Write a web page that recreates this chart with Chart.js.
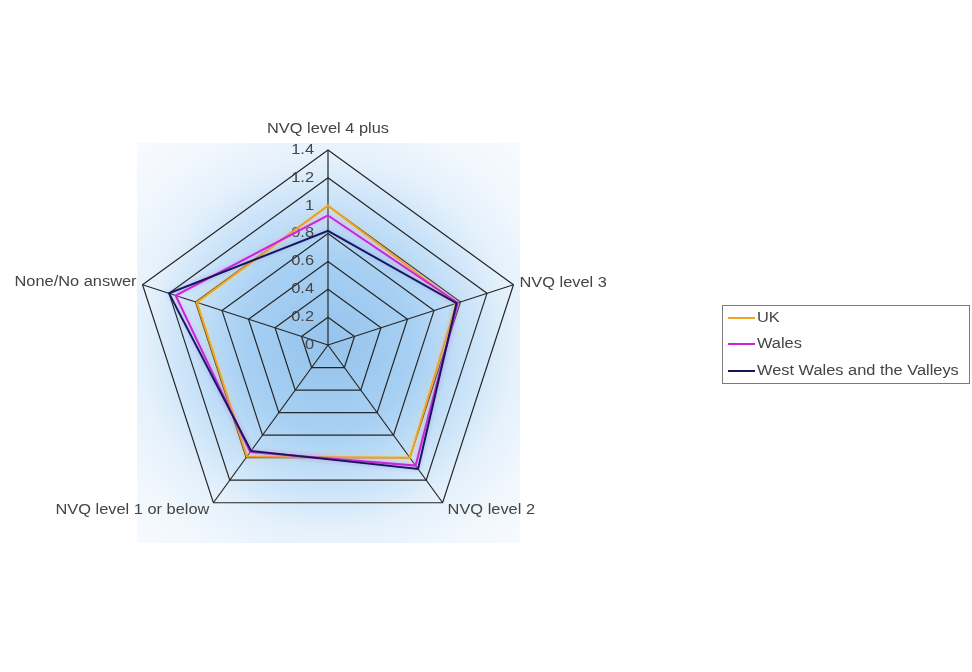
<!DOCTYPE html>
<html>
<head>
<meta charset="utf-8">
<title>Qualification levels – index</title>
<script src="https://cdn.jsdelivr.net/npm/chart.js@4/dist/chart.umd.min.js"></script>
<style>
  html, body { margin: 0; padding: 0; background: #ffffff; }
  #wrap { width: 972px; height: 672px; }
</style>
</head>
<body>
<div id="wrap"><canvas id="c" width="972" height="672"></canvas></div>
<script>
// Axis categories
const categories = ['NVQ level 4 plus', 'NVQ level 3', 'NVQ level 2', 'NVQ level 1 or below', 'None/No answer'];

// Series names and values (index relative to UK)
const seriesNames = ['UK', 'Wales', 'West Wales and the Valleys'];
const ukValues    = [1.00, 0.97, 1.00, 0.99, 0.99];
const walesValues = [0.93, 0.98, 1.07, 0.95, 1.15];
const wwvValues   = [0.82, 0.97, 1.10, 0.94, 1.20];

// Radial axis range
const axisMin = 0;
const axisMax = 1.4;
const axisStep = 0.2;

const seriesColors = ['#efa322', '#cc22dd', '#16165c'];
const glowColors = ['rgba(250,215,90,0.7)', 'rgba(245,150,240,0.7)', 'rgba(120,120,210,0.45)'];

const FONT = '14px "Liberation Sans", Arial, sans-serif';
const TEXT_COLOR = '#444444';
const STRETCH = 1.17;

function wideText(ctx, text, x, y, align) {
  ctx.save();
  ctx.translate(x, y);
  ctx.scale(STRETCH, 1);
  ctx.textAlign = align;
  ctx.textBaseline = 'middle';
  ctx.fillText(text, 0, 0);
  ctx.restore();
}

// Shaded backdrop behind the web
const backdropPlugin = {
  id: 'backdrop',
  beforeDraw(chart) {
    const ctx = chart.ctx;
    const s = chart.scales.r;
    ctx.save();
    ctx.fillStyle = '#ffffff';
    ctx.fillRect(0, 0, chart.width, chart.height);
    const g = ctx.createRadialGradient(s.xCenter, s.yCenter, 0, s.xCenter, s.yCenter, 285);
    g.addColorStop(0.00, '#95c3ec');
    g.addColorStop(0.30, '#a7d0f3');
    g.addColorStop(0.48, '#c6e1f8');
    g.addColorStop(0.64, '#e3f0fb');
    g.addColorStop(0.80, '#f1f7fd');
    g.addColorStop(1.00, '#f9fbfe');
    ctx.fillStyle = g;
    ctx.fillRect(137, 143, 383, 400);
    ctx.restore();
  }
};

// Tick values and category names around the web
const labelsPlugin = {
  id: 'webLabels',
  beforeDatasetsDraw(chart) {
    const ctx = chart.ctx;
    const s = chart.scales.r;
    ctx.save();
    ctx.font = FONT;
    ctx.fillStyle = TEXT_COLOR;
    s.ticks.forEach(t => {
      const d = s.getDistanceFromCenterForValue(t.value);
      const txt = String(parseFloat(t.value.toFixed(1)));
      wideText(ctx, txt, s.xCenter - 14, s.yCenter - d, 'right');
    });
    const place = [
      { dx: 0, dy: -21, align: 'center' },
      { dx: 6, dy: -2, align: 'left' },
      { dx: 5, dy: 7, align: 'left' },
      { dx: -4, dy: 7, align: 'right' },
      { dx: -6, dy: -3, align: 'right' }
    ];
    chart.data.labels.forEach((lab, i) => {
      const p = s.getPointPosition(i, s.drawingArea);
      const o = place[i];
      wideText(ctx, lab, p.x + o.dx, p.y + o.dy, o.align);
    });
    ctx.restore();
  },
  beforeDatasetDraw(chart, args) {
    const ctx = chart.ctx;
    ctx.save();
    ctx.shadowColor = glowColors[args.index];
    ctx.shadowBlur = 4;
  },
  afterDatasetDraw(chart) {
    chart.ctx.restore();
  }
};

// Boxed legend with line markers
const legendPlugin = {
  id: 'boxLegend',
  afterDraw(chart) {
    const ctx = chart.ctx;
    ctx.save();
    ctx.strokeStyle = '#7a7a7a';
    ctx.lineWidth = 1;
    ctx.strokeRect(722.5, 305.5, 247, 78);
    ctx.font = FONT;
    const rows = [318, 344, 371];
    chart.data.datasets.forEach((ds, i) => {
      ctx.strokeStyle = ds.borderColor;
      ctx.lineWidth = 2;
      ctx.beginPath();
      ctx.moveTo(728, rows[i]);
      ctx.lineTo(755, rows[i]);
      ctx.stroke();
      ctx.fillStyle = TEXT_COLOR;
      wideText(ctx, ds.label, 757, rows[i], 'left');
    });
    ctx.restore();
  }
};

const seriesValues = [ukValues, walesValues, wwvValues];

new Chart(document.getElementById('c'), {
  type: 'radar',
  data: {
    labels: categories,
    datasets: seriesNames.map((name, i) => ({
      label: name,
      data: seriesValues[i],
      borderColor: seriesColors[i],
      backgroundColor: 'transparent',
      borderWidth: 2,
      fill: false,
      pointRadius: 0,
      pointHoverRadius: 0,
      order: 3 - i
    }))
  },
  options: {
    responsive: false,
    animation: false,
    devicePixelRatio: 1,
    layout: { padding: { left: 133, right: 449, top: 150, bottom: 132 } },
    plugins: { legend: { display: false }, tooltip: { enabled: false } },
    scales: {
      r: {
        min: axisMin,
        max: axisMax,
        ticks: { stepSize: axisStep, display: false },
        grid: { color: '#262626', lineWidth: 1.2 },
        angleLines: { color: '#262626', lineWidth: 1.2 },
        pointLabels: { display: false }
      }
    }
  },
  plugins: [backdropPlugin, labelsPlugin, legendPlugin]
});
</script>
</body>
</html>
